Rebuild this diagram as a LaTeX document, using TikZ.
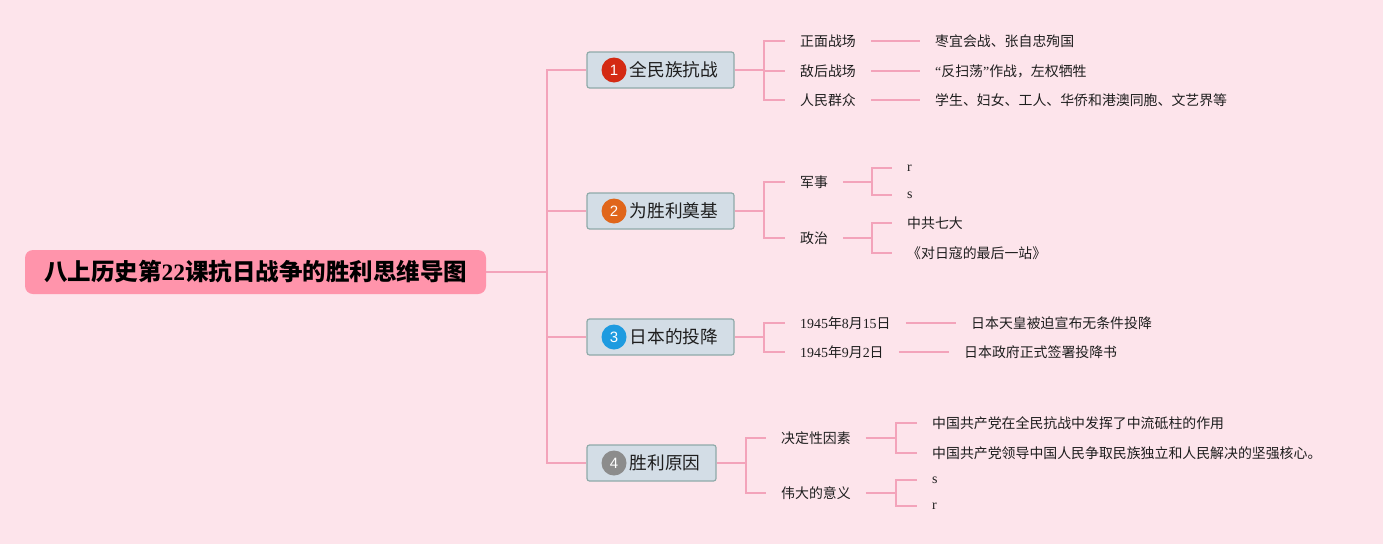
\documentclass[tikz,border=0pt]{standalone}
\usepackage{fontspec}
\setmainfont{Liberation Serif}
\newfontfamily\cjk{Noto Sans CJK SC}
\newfontfamily\sansf{Liberation Sans}
\definecolor{bgpink}{HTML}{FDE4EB}
\definecolor{rootpink}{HTML}{FF94AB}
\definecolor{boxfill}{HTML}{D3DDE6}
\definecolor{boxedge}{HTML}{8FAAA9}
\definecolor{linepink}{HTML}{F3A3BA}
\definecolor{textc}{HTML}{1E1E1E}
\definecolor{numred}{HTML}{D42A13}
\definecolor{numorange}{HTML}{E0661B}
\definecolor{numblue}{HTML}{1E9BE0}
\definecolor{numgray}{HTML}{8C8C8C}
\tikzset{
  rootbox/.style={rectangle, rounded corners=8pt, fill=rootpink, minimum width=461pt, minimum height=44pt, inner sep=0pt, text=black, font=\fontsize{23.5}{26}\selectfont\bfseries},
  branchbox/.style={rectangle, rounded corners=2.5pt, fill=boxfill, draw=boxedge, line width=1.2pt, minimum height=36pt, inner sep=0pt},
  numc/.style={circle, minimum size=25pt, inner sep=0pt, text=white, font=\sansf\fontsize{15}{15}\selectfont},
  btext/.style={anchor=west, inner sep=0pt, text=textc, font=\cjk\fontsize{17.7}{20}\selectfont},
  subtext/.style={anchor=west, inner xsep=15pt, inner ysep=2pt, text=textc, font=\cjk\fontsize{13.9}{16}\selectfont},
  conn/.style={draw=linepink, line width=1.3pt}
}
\begin{document}
\begin{tikzpicture}[x=1pt,y=-1pt]
\fill[bgpink] (0,0) rectangle (1383,544);
\useasboundingbox (0,0) rectangle (1383,544);

% root
\node[rootbox] (root) at (255.5,272) {{\cjk 八上历史第}22{\cjk 课抗日战争的胜利思维导图}};
\coordinate (j0) at (547,272);

% branches
\node[branchbox, minimum width=147pt] (b1) at (660.5,70) {};
\node[numc, fill=numred] (n1) at (614,70) {1};
\node[btext] (t1) at (629.5,70) {全民族抗战};

\node[branchbox, minimum width=147pt] (b2) at (660.5,211) {};
\node[numc, fill=numorange] (n2) at (614,211) {2};
\node[btext] (t2) at (629.5,211) {为胜利奠基};

\node[branchbox, minimum width=147pt] (b3) at (660.5,337) {};
\node[numc, fill=numblue] (n3) at (614,337) {3};
\node[btext] (t3) at (629.5,337) {日本的投降};

\node[branchbox, minimum width=129pt] (b4) at (651.5,463) {};
\node[numc, fill=numgray] (n4) at (614,463) {4};
\node[btext] (t4) at (629.5,463) {胜利原因};

\draw[conn] (root.east) -- (j0);
\foreach \b in {b1,b2,b3,b4} \draw[conn] (j0) |- (\b.west);

% branch 1
\coordinate (j1) at (764,70);
\node[subtext] (c11) at (785,41) {正面战场};
\node[subtext] (c12) at (785,71) {敌后战场};
\node[subtext] (c13) at (785,100) {人民群众};
\node[subtext] (l11) at (920,41) {枣宜会战、张自忠殉国};
\node[subtext] (l12) at (920,71) {{\rmfamily “}反扫荡{\rmfamily ”}作战，左权牺牲};
\node[subtext] (l13) at (920,100) {学生、妇女、工人、华侨和港澳同胞、文艺界等};
\draw[conn] (b1.east) -- (j1);
\foreach \c in {c11,c12,c13} \draw[conn] (j1) |- (\c.west);
\draw[conn] (c11.east) -- (l11.west);
\draw[conn] (c12.east) -- (l12.west);
\draw[conn] (c13.east) -- (l13.west);

% branch 2
\coordinate (j2) at (764,211);
\node[subtext] (c21) at (785,182) {军事};
\node[subtext] (c22) at (785,238) {政治};
\draw[conn] (b2.east) -- (j2);
\foreach \c in {c21,c22} \draw[conn] (j2) |- (\c.west);
\coordinate (k21) at (872,182);
\coordinate (k22) at (872,238);
\node[subtext] (l211) at (892,168) {\rmfamily r};
\node[subtext] (l212) at (892,195) {\rmfamily s};
\node[subtext] (l221) at (892,223) {中共七大};
\node[subtext] (l222) at (892,253) {《对日寇的最后一站》};
\draw[conn] (c21.east) -- (k21);
\draw[conn] (c22.east) -- (k22);
\draw[conn] (k21) |- (l211.west);
\draw[conn] (k21) |- (l212.west);
\draw[conn] (k22) |- (l221.west);
\draw[conn] (k22) |- (l222.west);

% branch 3
\coordinate (j3) at (764,337);
\node[subtext] (c31) at (785,323) {{\rmfamily 1945}年{\rmfamily 8}月{\rmfamily 15}日};
\node[subtext] (c32) at (785,352) {{\rmfamily 1945}年{\rmfamily 9}月{\rmfamily 2}日};
\node[subtext] (l31) at (956,323) {日本天皇被迫宣布无条件投降};
\node[subtext] (l32) at (949,352) {日本政府正式签署投降书};
\draw[conn] (b3.east) -- (j3);
\foreach \c in {c31,c32} \draw[conn] (j3) |- (\c.west);
\draw[conn] (c31.east) -- (l31.west);
\draw[conn] (c32.east) -- (l32.west);

% branch 4
\coordinate (j4) at (746,463);
\node[subtext] (c41) at (766,438) {决定性因素};
\node[subtext] (c42) at (766,493) {伟大的意义};
\draw[conn] (b4.east) -- (j4);
\foreach \c in {c41,c42} \draw[conn] (j4) |- (\c.west);
\coordinate (k41) at (896,438);
\coordinate (k42) at (896,493);
\node[subtext] (l411) at (917,423) {中国共产党在全民抗战中发挥了中流砥柱的作用};
\node[subtext] (l412) at (917,453) {中国共产党领导中国人民争取民族独立和人民解决的坚强核心。};
\node[subtext] (l421) at (917,480) {\rmfamily s};
\node[subtext] (l422) at (917,506) {\rmfamily r};
\draw[conn] (c41.east) -- (k41);
\draw[conn] (c42.east) -- (k42);
\draw[conn] (k41) |- (l411.west);
\draw[conn] (k41) |- (l412.west);
\draw[conn] (k42) |- (l421.west);
\draw[conn] (k42) |- (l422.west);
\end{tikzpicture}
\end{document}
